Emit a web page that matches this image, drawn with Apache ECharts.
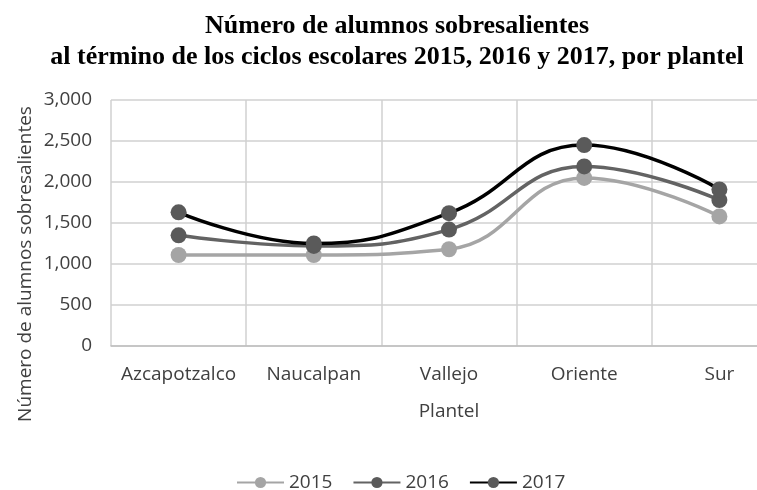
<!DOCTYPE html>
<html>
<head>
<meta charset="utf-8">
<script src="https://cdn.jsdelivr.net/npm/echarts@6/dist/echarts.min.js"></script>
<style>
html, body { margin: 0; padding: 0; background: #fff; }
#main { width: 757px; height: 490px; }
</style>
</head>
<body>
<div id="main"></div>
<script>
var planteles = ['Azcapotzalco', 'Naucalpan', 'Vallejo', 'Oriente', 'Sur'];
var datos2015 = [1110, 1110, 1180, 2050, 1580];
var datos2016 = [1350, 1220, 1420, 2190, 1780];
var datos2017 = [1630, 1250, 1620, 2450, 1910];
var etiquetaFont = 'Open Sans';

var myChart = echarts.init(document.getElementById('main'));

function serie(nombre, datos, colorLinea, colorPunto) {
    return {
        name: nombre,
        type: 'line',
        smooth: 0.45,
        data: datos,
        symbol: 'circle',
        symbolSize: 16,
        lineStyle: { color: colorLinea, width: 3.5 },
        itemStyle: { color: colorPunto, borderWidth: 0 },
        z: 2
    };
}

option = {
    animation: false,
    backgroundColor: '#fff',
    title: {
        text: 'Número de alumnos sobresalientes\nal término de los ciclos escolares 2015, 2016 y 2017, por plantel',
        left: 392,
        textAlign: 'center',
        top: 6,
        textStyle: {
            fontFamily: 'Liberation Serif',
            fontWeight: 'bold',
            fontSize: 26,
            lineHeight: 31,
            color: '#000'
        }
    },
    // el área de trazado sigue más allá del borde derecho, como en el original
    grid: { left: 111, top: 100, width: 676, bottom: 144, outerBoundsMode: 'none' },
    legend: {
        bottom: -7,
        left: 231,
        itemWidth: 47,
        itemHeight: 14,
        itemGap: 20,
        textStyle: { fontFamily: etiquetaFont, fontSize: 19, color: '#404040' },
        data: ['2015', '2016', '2017']
    },
    xAxis: {
        type: 'category',
        data: planteles,
        name: 'Plantel',
        nameLocation: 'middle',
        nameGap: 56,
        nameTextStyle: { fontFamily: etiquetaFont, fontSize: 19, color: '#404040' },
        axisLine: { show: true, lineStyle: { color: '#bfbfbf', width: 1.5 } },
        axisTick: { show: false },
        axisLabel: { interval: 0, fontFamily: etiquetaFont, fontSize: 19, color: '#404040', margin: 19 },
        splitLine: { show: true, interval: 0, lineStyle: { color: '#d0d0d0', width: 1.5 } }
    },
    yAxis: {
        type: 'value',
        min: 0,
        max: 3000,
        interval: 500,
        axisLine: { show: false },
        axisTick: { show: false },
        axisLabel: {
            fontFamily: etiquetaFont, fontSize: 19, color: '#404040', margin: 19,
            formatter: function (v) { return v.toLocaleString('en-US'); }
        },
        splitLine: { lineStyle: { color: '#d0d0d0', width: 1.5 } }
    },
    graphic: [{
        type: 'text',
        x: 26,
        y: 264,
        rotation: Math.PI / 2,
        style: {
            text: 'Número de alumnos sobresalientes',
            fontFamily: etiquetaFont,
            fontSize: 19,
            fill: '#404040',
            align: 'center',
            verticalAlign: 'middle'
        }
    }],
    series: [
        serie('2015', datos2015, '#a5a5a5', '#a5a5a5'),
        serie('2016', datos2016, '#636363', '#5a5a5a'),
        serie('2017', datos2017, '#000000', '#5a5a5a')
    ]
};

myChart.setOption(option);
</script>
</body>
</html>
